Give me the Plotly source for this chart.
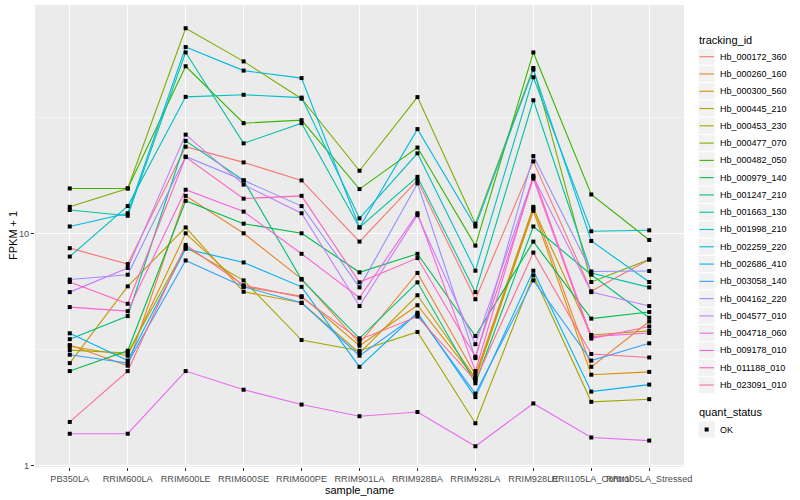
import plotly.graph_objects as go

# ---------------- data ----------------
sample_names = ["PB350LA", "RRIM600LA", "RRIM600LE", "RRIM600SE", "RRIM600PE",
                "RRIM901LA", "RRIM928BA", "RRIM928LA", "RRIM928LE",
                "RRII105LA_Control", "RRII105LA_Stressed"]

tracking_ids = ["Hb_000172_360", "Hb_000260_160", "Hb_000300_560", "Hb_000445_210",
                "Hb_000453_230", "Hb_000477_070", "Hb_000482_050", "Hb_000979_140",
                "Hb_001247_210", "Hb_001663_130", "Hb_001998_210", "Hb_002259_220",
                "Hb_002686_410", "Hb_003058_140", "Hb_004162_220", "Hb_004577_010",
                "Hb_004718_060", "Hb_009178_010", "Hb_011188_010", "Hb_023091_010"]

hb_000172_360 = [8.63, 7.37, 23.6, 20.2, 16.9, 9.21, 16.9, 5.20, 20.4, 5.63, 7.71]
hb_000260_160 = [3.30, 2.69, 14.5, 10.0, 6.36, 3.36, 6.75, 2.46, 13.0, 2.66, 4.17]
hb_000300_560 = [3.26, 2.97, 10.0, 5.88, 5.36, 3.28, 4.90, 2.36, 12.5, 2.46, 2.53]
hb_000445_210 = [2.76, 5.91, 10.6, 5.60, 5.02, 3.05, 5.41, 2.38, 12.8, 3.65, 3.80]
hb_000453_230 = [3.14, 3.05, 8.71, 6.27, 3.47, 3.12, 3.76, 1.52, 6.59, 1.88, 1.93]
hb_000477_070 = [13.0, 15.6, 76.4, 55.0, 38.0, 18.6, 38.6, 11.0, 51.5, 6.17, 7.71]
hb_000482_050 = [15.6, 15.6, 52.4, 29.8, 30.7, 15.5, 23.4, 8.85, 60.1, 14.7, 9.36]
hb_000979_140 = [2.55, 3.12, 13.8, 11.0, 10.0, 6.79, 8.16, 3.61, 9.21, 4.29, 4.58]
hb_001247_210 = [3.50, 4.40, 25.0, 16.9, 6.32, 3.53, 6.15, 2.26, 10.7, 6.63, 4.33]
hb_001663_130 = [12.6, 11.9, 60.1, 24.4, 29.8, 10.6, 17.5, 5.58, 37.4, 6.75, 5.85]
hb_001998_210 = [7.94, 13.1, 38.7, 39.5, 38.4, 11.6, 22.1, 6.90, 47.0, 10.2, 10.3]
hb_002259_220 = [10.7, 12.2, 63.4, 50.2, 46.6, 10.6, 28.1, 10.7, 50.7, 9.27, 6.17]
hb_002686_410 = [3.71, 2.83, 8.57, 7.49, 5.88, 2.66, 4.55, 1.97, 6.90, 2.08, 2.23]
hb_003058_140 = [3.00, 2.76, 7.64, 5.88, 5.02, 2.97, 4.48, 2.04, 6.27, 2.83, 3.36]
hb_004162_220 = [6.32, 6.63, 21.4, 16.9, 13.1, 5.85, 16.4, 2.90, 21.5, 6.85, 6.88]
hb_004577_010 = [5.58, 7.09, 26.6, 16.2, 12.2, 4.86, 11.97, 3.33, 17.5, 5.58, 4.86]
hb_004718_060 = [1.37, 1.37, 2.55, 2.12, 1.83, 1.63, 1.70, 1.21, 1.85, 1.32, 1.28]
hb_009178_010 = [4.81, 4.62, 15.4, 12.4, 8.16, 5.28, 12.2, 2.55, 17.7, 3.59, 3.72]
hb_011188_010 = [6.17, 4.97, 21.3, 14.1, 14.5, 6.15, 7.82, 2.94, 17.2, 3.52, 3.97]
hb_023091_010 = [1.54, 2.55, 8.91, 5.97, 5.31, 3.48, 4.38, 2.32, 8.26, 3.02, 2.92]

series_values = [hb_000172_360, hb_000260_160, hb_000300_560, hb_000445_210,
                 hb_000453_230, hb_000477_070, hb_000482_050, hb_000979_140,
                 hb_001247_210, hb_001663_130, hb_001998_210, hb_002259_220,
                 hb_002686_410, hb_003058_140, hb_004162_220, hb_004577_010,
                 hb_004718_060, hb_009178_010, hb_011188_010, hb_023091_010]

series_colors = ["#F8766D", "#EA8331", "#D89000", "#C09B00", "#A3A500", "#7CAE00",
                 "#39B600", "#00BB4E", "#00BF7D", "#00C1A3", "#00BFC4", "#00BAE0",
                 "#00B0F6", "#35A2FF", "#9590FF", "#C77CFF", "#E76BF3", "#FA62DB",
                 "#FF62BC", "#FF6C91"]

y_tick_values = [1, 10]
y_tick_labels = ["1", "10"]
y_minor_values = [3.162, 31.62]
quant_status_levels = ["OK"]

# ---------------- figure ----------------
FONT = "Liberation Sans, Arial, Helvetica, sans-serif"
PL, PR, PT, PB = 35, 684, 5, 467


def px(x):
    return (x - PL) / (PR - PL)


def py(y):
    return (PB - y) / (PB - PT)


fig = go.Figure()

for name, vals, col in zip(tracking_ids, series_values, series_colors):
    fig.add_trace(go.Scatter(x=sample_names, y=vals, mode="lines", name=name,
                             line=dict(color=col, width=1.1), showlegend=False))

for name, vals in zip(tracking_ids, series_values):
    fig.add_trace(go.Scatter(x=sample_names, y=vals, mode="markers", name=name,
                             marker=dict(symbol="square", size=4, color="black",
                                         line=dict(width=0)),
                             showlegend=False))

shapes = []
annotations = []

# axis titles
annotations.append(dict(text="sample_name", xref="paper", yref="paper",
                        x=px((PL + PR) / 2), y=py(490), xanchor="center", yanchor="middle",
                        showarrow=False, font=dict(family=FONT, size=11, color="black")))
annotations.append(dict(text="FPKM + 1", xref="paper", yref="paper",
                        x=px(13), y=py(236), xanchor="center", yanchor="middle",
                        textangle=-90, showarrow=False,
                        font=dict(family=FONT, size=11, color="black")))

# legend: tracking_id
LX = 698
KEY = 17.28
annotations.append(dict(text="tracking_id", xref="paper", yref="paper",
                        x=px(LX - 1), y=py(40), xanchor="left", yanchor="middle",
                        showarrow=False, font=dict(family=FONT, size=11, color="black")))
first_c = 56.7
for i, (name, col) in enumerate(zip(tracking_ids, series_colors)):
    cy = first_c + i * KEY
    shapes.append(dict(type="rect", xref="paper", yref="paper",
                       x0=px(LX), x1=px(LX + KEY), y0=py(cy - KEY / 2), y1=py(cy + KEY / 2),
                       fillcolor="#F2F2F2", line=dict(color="white", width=1), layer="above"))
    shapes.append(dict(type="line", xref="paper", yref="paper",
                       x0=px(LX + 1.5), x1=px(LX + KEY - 1.5), y0=py(cy), y1=py(cy),
                       line=dict(color=col, width=1.1), layer="above"))
    annotations.append(dict(text=name, xref="paper", yref="paper",
                            x=px(LX + KEY + 3), y=py(cy), xanchor="left", yanchor="middle",
                            showarrow=False, font=dict(family=FONT, size=9, color="black")))

# legend: quant_status
annotations.append(dict(text="quant_status", xref="paper", yref="paper",
                        x=px(LX - 1), y=py(412), xanchor="left", yanchor="middle",
                        showarrow=False, font=dict(family=FONT, size=11, color="black")))
for j, lev in enumerate(quant_status_levels):
    cy = 429.5 + j * KEY
    shapes.append(dict(type="rect", xref="paper", yref="paper",
                       x0=px(LX), x1=px(LX + KEY), y0=py(cy - KEY / 2), y1=py(cy + KEY / 2),
                       fillcolor="#F2F2F2", line=dict(color="white", width=1), layer="above"))
    shapes.append(dict(type="rect", xref="paper", yref="paper",
                       x0=px(LX + KEY / 2 - 2), x1=px(LX + KEY / 2 + 2),
                       y0=py(cy - 2), y1=py(cy + 2),
                       fillcolor="black", line=dict(width=0), layer="above"))
    annotations.append(dict(text=lev, xref="paper", yref="paper",
                            x=px(LX + KEY + 3), y=py(cy), xanchor="left", yanchor="middle",
                            showarrow=False, font=dict(family=FONT, size=9, color="black")))

fig.update_layout(
    width=800, height=500,
    margin=dict(l=PL, r=800 - PR, t=PT, b=500 - PB, pad=0, autoexpand=False),
    paper_bgcolor="white", plot_bgcolor="#EBEBEB",
    font=dict(family=FONT, color="#4D4D4D"),
    shapes=shapes, annotations=annotations,
    showlegend=False,
    xaxis=dict(type="category", categoryorder="array", categoryarray=sample_names,
               range=[-0.6, len(sample_names) - 0.4],
               automargin=False, tickangle=0,
               showgrid=True, gridcolor="white", gridwidth=1.1,
               zeroline=False, showline=False,
               ticks="outside", ticklen=3, tickwidth=1, tickcolor="#333333",
               tickfont=dict(family=FONT, size=9.2, color="#4D4D4D")),
    yaxis=dict(type="log", range=[-0.0065, 1.9832], automargin=False,
               tickmode="array", tickvals=y_tick_values, ticktext=y_tick_labels,
               showgrid=True, gridcolor="white", gridwidth=1.1,
               minor=dict(tickmode="array", tickvals=y_minor_values, showgrid=True,
                          gridcolor="#F5F5F5", gridwidth=0.6, ticks=""),
               zeroline=False, showline=False,
               ticks="outside", ticklen=3, tickwidth=1, tickcolor="#333333",
               tickfont=dict(family=FONT, size=9.2, color="#4D4D4D")),
)

fig.write_html("out.html",
               config={"displayModeBar": False},
               post_script="document.body.style.margin='0';document.body.style.overflow='hidden';")
